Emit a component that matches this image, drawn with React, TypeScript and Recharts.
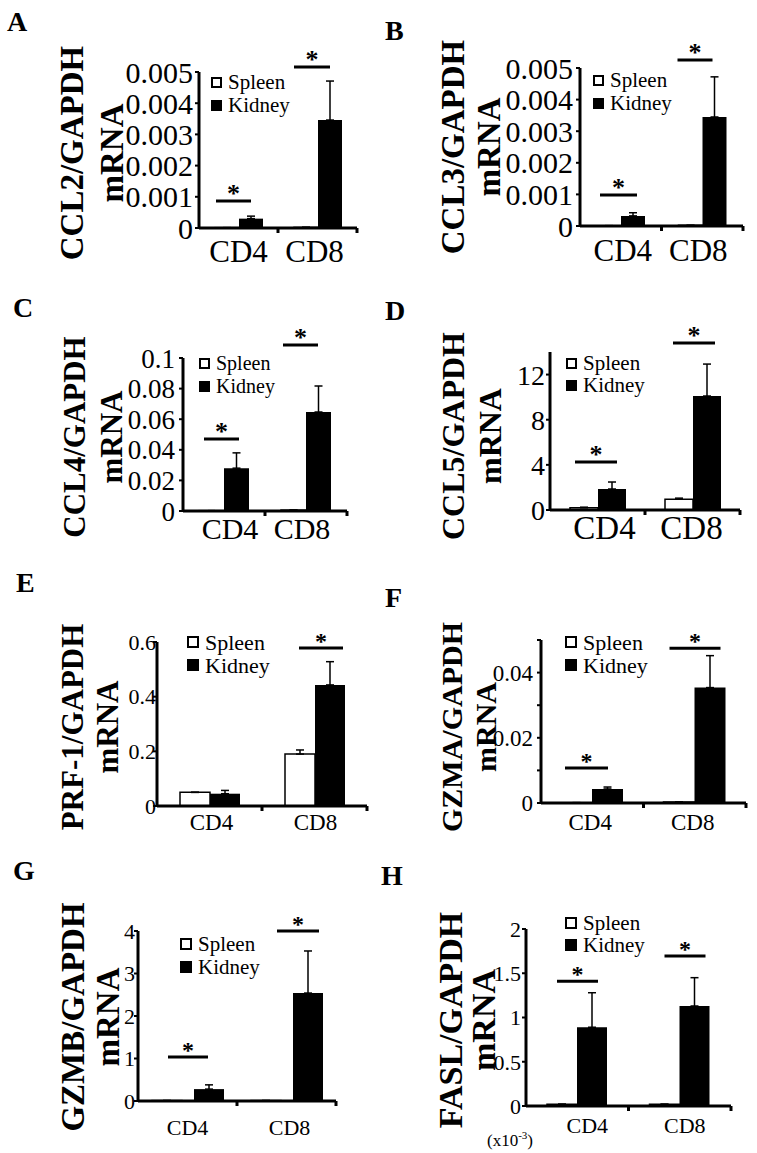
import React from 'react';
import { BarChart, Bar, XAxis, YAxis, ErrorBar, Legend } from 'recharts';

const SERIF = '"Liberation Serif", "DejaVu Serif", "Noto Serif", Tinos, "Times New Roman", Times, serif';

const categories = ['CD4', 'CD8'];
const seriesNames = ['Spleen', 'Kidney'];

// A - CCL2
const ccl2Spleen = [0.00001, 0.00002];
const ccl2SpleenErr = [0, 0];
const ccl2Kidney = [0.0003, 0.00346];
const ccl2KidneyErr = [0.00008, 0.00125];
const ccl2Sig = [0.000865, 0.00516];
const ccl2Ticks = [0, 0.001, 0.002, 0.003, 0.004, 0.005];

// B - CCL3
const ccl3Spleen = [0.00001, 0.00002];
const ccl3SpleenErr = [0, 0];
const ccl3Kidney = [0.00032, 0.00345];
const ccl3KidneyErr = [0.0001, 0.00127];
const ccl3Sig = [0.00098, 0.00525];
const ccl3Ticks = [0, 0.001, 0.002, 0.003, 0.004, 0.005];

// C - CCL4
const ccl4Spleen = [0.0002, 0.0006];
const ccl4SpleenErr = [0, 0];
const ccl4Kidney = [0.028, 0.0647];
const ccl4KidneyErr = [0.01, 0.017];
const ccl4Sig = [0.047, 0.1085];
const ccl4Ticks = [0, 0.02, 0.04, 0.06, 0.08, 0.1];

// D - CCL5
const ccl5Spleen = [0.2, 0.95];
const ccl5SpleenErr = [0.05, 0.1];
const ccl5Kidney = [1.86, 10.1];
const ccl5KidneyErr = [0.62, 2.83];
const ccl5Sig = [4.25, 14.8];
const ccl5Ticks = [0, 4, 8, 12];

// E - PRF-1
const prf1Spleen = [0.05, 0.19];
const prf1SpleenErr = [0, 0.015];
const prf1Kidney = [0.045, 0.443];
const prf1KidneyErr = [0.012, 0.085];
const prf1Sig = [null, 0.578];
const prf1Ticks = [0, 0.2, 0.4, 0.6];

// F - GZMA
const gzmaSpleen = [0.0001, 0.0003];
const gzmaSpleenErr = [0, 0];
const gzmaKidney = [0.0043, 0.0354];
const gzmaKidneyErr = [0.0006, 0.0098];
const gzmaSig = [0.0107, 0.0475];
const gzmaTicks = [0, 0.01, 0.02, 0.03, 0.04, 0.05];
const gzmaTickLabels = [0, 0.02, 0.04];

// G - GZMB
const gzmbSpleen = [0.01, 0.01];
const gzmbSpleenErr = [0, 0];
const gzmbKidney = [0.28, 2.54];
const gzmbKidneyErr = [0.1, 0.99];
const gzmbSig = [1.035, 4.0];
const gzmbTicks = [0, 1, 2, 3, 4];

// H - FASL (x10^-3)
const faslSpleen = [0.02, 0.02];
const faslSpleenErr = [0, 0];
const faslKidney = [0.89, 1.13];
const faslKidneyErr = [0.39, 0.32];
const faslSig = [1.41, 1.695];
const faslTicks = [0, 0.5, 1, 1.5, 2];

type PanelCfg = {
  letter: string;
  letterPos: [number, number];
  cell: [number, number, number, number];
  plot: [number, number, number, number];
  domainMax: number;
  ticks: number[];
  tickLabels?: number[];
  spleen: number[];
  spleenErr: number[];
  kidney: number[];
  kidneyErr: number[];
  sig: (number | null)[];
  gene: string;
  labelX: number;
  mrnaX: number;
  labelY: number;
  labelFs: number;
  tickFs: number;
  tickMargin: number;
  catFs: number;
  catDy: number;
  catDx: number[];
  barSize: number;
  barGap: number;
  legend: [number, number, number];
  legendFs: number;
  sqSize: number;
  sigDx: number[][];
  starFs: number;
};

const panels: PanelCfg[] = [
  {
    letter: 'A', letterPos: [7, 31], cell: [0, 0, 378, 290], plot: [199, 357, 72, 228],
    domainMax: 0.005, ticks: ccl2Ticks, spleen: ccl2Spleen, spleenErr: ccl2SpleenErr,
    kidney: ccl2Kidney, kidneyErr: ccl2KidneyErr, sig: ccl2Sig,
    gene: 'CCL2', labelX: 72, mrnaX: 112, labelY: 153, labelFs: 33,
    tickFs: 30, tickMargin: 2, catFs: 31, catDy: 23, catDx: [0, -3], barSize: 24, barGap: 0,
    legend: [211, 82, 23], legendFs: 21, sqSize: 11, sigDx: [[-23, 12], [-24, 12]], starFs: 26,
  },
  {
    letter: 'B', letterPos: [385, 40], cell: [378, 0, 379, 290], plot: [580, 743, 68, 226],
    domainMax: 0.005, ticks: ccl3Ticks, spleen: ccl3Spleen, spleenErr: ccl3SpleenErr,
    kidney: ccl3Kidney, kidneyErr: ccl3KidneyErr, sig: ccl3Sig,
    gene: 'CCL3', labelX: 453, mrnaX: 489, labelY: 147, labelFs: 33,
    tickFs: 30, tickMargin: 3, catFs: 31, catDy: 24, catDx: [2, -4], barSize: 24, barGap: 0,
    legend: [593, 80, 23], legendFs: 21, sqSize: 11, sigDx: [[-21, 16], [-25, 10]], starFs: 26,
  },
  {
    letter: 'C', letterPos: [13, 317], cell: [0, 290, 378, 290], plot: [183, 347, 358, 511],
    domainMax: 0.1, ticks: ccl4Ticks, spleen: ccl4Spleen, spleenErr: ccl4SpleenErr,
    kidney: ccl4Kidney, kidneyErr: ccl4KidneyErr, sig: ccl4Sig,
    gene: 'CCL4', labelX: 74, mrnaX: 111, labelY: 437, labelFs: 31,
    tickFs: 27, tickMargin: 4, catFs: 30, catDy: 17, catDx: [6, -4], barSize: 25, barGap: 0,
    legend: [199, 363, 23], legendFs: 20, sqSize: 11, sigDx: [[-20, 15], [-23, 12]], starFs: 26,
  },
  {
    letter: 'D', letterPos: [385, 320], cell: [378, 290, 379, 290], plot: [550, 740, 352, 510],
    domainMax: 14, ticks: ccl5Ticks, spleen: ccl5Spleen, spleenErr: ccl5SpleenErr,
    kidney: ccl5Kidney, kidneyErr: ccl5KidneyErr, sig: ccl5Sig,
    gene: 'CCL5', labelX: 453, mrnaX: 490, labelY: 436, labelFs: 32,
    tickFs: 28, tickMargin: 1, catFs: 33, catDy: 18, catDx: [7, -1], barSize: 28, barGap: 0,
    legend: [566, 363, 22], legendFs: 21, sqSize: 11, sigDx: [[-23, 19], [-20, 22]], starFs: 26,
  },
  {
    letter: 'E', letterPos: [16, 592], cell: [0, 580, 378, 290], plot: [157, 367, 642, 806],
    domainMax: 0.6, ticks: prf1Ticks, spleen: prf1Spleen, spleenErr: prf1SpleenErr,
    kidney: prf1Kidney, kidneyErr: prf1KidneyErr, sig: prf1Sig,
    gene: 'PRF-1', labelX: 72, mrnaX: 107, labelY: 727, labelFs: 31,
    tickFs: 22, tickMargin: -3, catFs: 23, catDy: 16, catDx: [2, 1], barSize: 30, barGap: 0,
    legend: [187, 642, 23], legendFs: 22, sqSize: 12, sigDx: [[-16, 28], [-16, 28]], starFs: 24,
  },
  {
    letter: 'F', letterPos: [385, 607], cell: [378, 580, 379, 290], plot: [541, 746, 640, 803],
    domainMax: 0.05, ticks: gzmaTicks, tickLabels: gzmaTickLabels, spleen: gzmaSpleen, spleenErr: gzmaSpleenErr,
    kidney: gzmaKidney, kidneyErr: gzmaKidneyErr, sig: gzmaSig,
    gene: 'GZMA', labelX: 451, mrnaX: 485, labelY: 727, labelFs: 30,
    tickFs: 23, tickMargin: 4, catFs: 23, catDy: 19, catDx: [-2, -2], barSize: 31, barGap: 0,
    legend: [565, 642, 23], legendFs: 22, sqSize: 12, sigDx: [[-27, 16], [-25, 26]], starFs: 24,
  },
  {
    letter: 'G', letterPos: [13, 880], cell: [0, 870, 378, 283], plot: [138, 336, 931, 1101],
    domainMax: 4, ticks: gzmbTicks, spleen: gzmbSpleen, spleenErr: gzmbSpleenErr,
    kidney: gzmbKidney, kidneyErr: gzmbKidneyErr, sig: gzmbSig,
    gene: 'GZMB', labelX: 73, mrnaX: 108, labelY: 1017, labelFs: 33,
    tickFs: 22, tickMargin: -1, catFs: 22, catDy: 26, catDx: [0, 3], barSize: 30, barGap: 12,
    legend: [180, 944, 23], legendFs: 21, sqSize: 12, sigDx: [[-26, 14], [-16, 26]], starFs: 24,
  },
  {
    letter: 'H', letterPos: [381, 885], cell: [378, 870, 379, 283], plot: [526, 731, 929, 1106],
    domainMax: 2, ticks: faslTicks, spleen: faslSpleen, spleenErr: faslSpleenErr,
    kidney: faslKidney, kidneyErr: faslKidneyErr, sig: faslSig,
    gene: 'FASL', labelX: 450, mrnaX: 483, labelY: 1020, labelFs: 34,
    tickFs: 22, tickMargin: 1, catFs: 22, catDy: 19, catDx: [10, 5], barSize: 30, barGap: 0,
    legend: [565, 923, 22], legendFs: 21, sqSize: 12, sigDx: [[-20, 21], [-15, 26]], starFs: 24,
  },
];

function YLabel({ c }: { c: PanelCfg }) {
  const [left, top] = c.cell;
  const lx = c.labelX - left;
  const mx = c.mrnaX - left;
  const ly = c.labelY - top;
  return (
    <g>
      <text x={lx} y={ly} transform={`rotate(-90 ${lx} ${ly})`} textAnchor="middle" fontFamily={SERIF}
        dominantBaseline="central" fontWeight="bold" fontSize={c.labelFs} fill="#000">
        {c.gene}/GAPDH
      </text>
      <text x={mx} y={ly} transform={`rotate(-90 ${mx} ${ly})`} textAnchor="middle" fontFamily={SERIF}
        dominantBaseline="central" fontWeight="bold" fontSize={c.labelFs} fill="#000">
        mRNA
      </text>
    </g>
  );
}

function LegendBox({ c }: { c: PanelCfg }) {
  const rowH = c.legend[2];
  return (
    <div style={{ fontSize: c.legendFs, lineHeight: `${rowH}px`, color: '#000', fontFamily: SERIF }}>
      {seriesNames.map((n, i) => (
        <div key={n} style={{ display: 'flex', alignItems: 'center', height: rowH, whiteSpace: 'nowrap' }}>
          <span style={{
            display: 'inline-block', width: c.sqSize, height: c.sqSize, boxSizing: 'border-box',
            border: '2px solid #000', background: i === 0 ? '#fff' : '#000', marginRight: 6,
          }} />
          {n}
        </div>
      ))}
    </div>
  );
}

function Panel({ c }: { c: PanelCfg }) {
  const [left, top, w, h] = c.cell;
  const [x0, x1, yTop, yBot] = c.plot;
  const YW = 80;
  const XH = 40;
  const margin = { top: yTop - top, left: x0 - left - YW, right: left + w - x1, bottom: top + h - yBot - XH };
  const rows = categories.map((cat, i) => ({
    cat,
    spleen: c.spleen[i],
    spleenErr: [0, c.spleenErr[i]],
    kidney: c.kidney[i],
    kidneyErr: [0, c.kidneyErr[i]],
  }));
  const pxPerUnit = (yBot - yTop) / c.domainMax;
  const half = (x1 - x0) / 4;
  const axisY = yBot - top;

  const renderSig = (p: any) => {
    const vb = p.viewBox && p.viewBox.width != null ? p.viewBox : p;
    const i = typeof p.index === 'number' ? p.index : c.kidney.indexOf(p.value);
    const s = c.sig[i];
    if (s == null || vb.x == null) return null;
    const bx = vb.x;
    const ly = axisY - s * pxPerUnit;
    const [a, b] = c.sigDx[i];
    return (
      <g key={`sig-${i}`}>
        <line x1={bx + a} x2={bx + b} y1={ly} y2={ly} stroke="#000" strokeWidth={3} />
        <text x={bx + (a + b) / 2} y={ly + 1} textAnchor="middle" fontWeight="bold" fontFamily={SERIF}
          fontSize={c.starFs} fill="#000">*</text>
      </g>
    );
  };

  const renderCat = (p: any) => {
    const i = p.index ?? categories.indexOf(p.payload.value);
    return (
      <g>
        <text x={p.x + c.catDx[i]} y={axisY + c.catDy} textAnchor="middle" dominantBaseline="central"
          fontFamily={SERIF} fontSize={c.catFs} fill="#000">
          {p.payload.value}
        </text>
        <line x1={p.x + half} x2={p.x + half} y1={axisY} y2={axisY + 5} stroke="#000" strokeWidth={3} />
      </g>
    );
  };

  const fmt = (v: number) => (c.tickLabels && !c.tickLabels.includes(v) ? '' : String(v));

  return (
    <div style={{ position: 'absolute', left, top }}>
      <BarChart width={w} height={h} data={rows} margin={margin} barSize={c.barSize} barGap={c.barGap}
        style={{ fontFamily: SERIF }}>
        <XAxis dataKey="cat" interval={0} height={XH} tickLine={false}
          axisLine={{ stroke: '#000', strokeWidth: 3 }} tick={renderCat} />
        <YAxis type="number" domain={[0, c.domainMax]} allowDataOverflow ticks={c.ticks} interval={0}
          width={YW} tickSize={4} tickMargin={c.tickMargin} tickFormatter={fmt}
          axisLine={{ stroke: '#000', strokeWidth: 3 }} tickLine={{ stroke: '#000', strokeWidth: 2 }}
          tick={{ fill: '#000', fontSize: c.tickFs, fontFamily: SERIF }} label={<YLabel c={c} />} />
        <Legend layout="vertical" align="center" verticalAlign="middle"
          wrapperStyle={{ left: c.legend[0] - left, top: c.legend[1] - c.legend[2] / 2 - top, width: 'auto' }}
          content={() => <LegendBox c={c} />} />
        <Bar dataKey="spleen" name="Spleen" fill="#fff" stroke="#000" strokeWidth={1.5} isAnimationActive={false}>
          <ErrorBar dataKey="spleenErr" width={4} stroke="#000" strokeWidth={1.5} direction="y" />
        </Bar>
        <Bar dataKey="kidney" name="Kidney" fill="#000" isAnimationActive={false} label={renderSig}>
          <ErrorBar dataKey="kidneyErr" width={4} stroke="#000" strokeWidth={1.5} direction="y" />
        </Bar>
      </BarChart>
    </div>
  );
}

export default function App() {
  return (
    <div style={{
      position: 'absolute', left: 0, top: 0, width: 757, height: 1153, background: '#fff',
      fontFamily: SERIF, overflow: 'hidden',
    }}>
      {panels.map((c) => <Panel key={c.letter} c={c} />)}
      <svg width={757} height={1153} style={{ position: 'absolute', left: 0, top: 0, pointerEvents: 'none' }}>
        {panels.map((c) => (
          <text key={c.letter} x={c.letterPos[0]} y={c.letterPos[1]} fontWeight="bold" fontSize={28}
            fontFamily={SERIF} fill="#000">
            {c.letter}
          </text>
        ))}
        <text x={487} y={1146} fontSize={17} fontFamily={SERIF} fill="#000">
          (x10<tspan dy={-7} fontSize={11}>-3</tspan><tspan dy={7}>)</tspan>
        </text>
      </svg>
    </div>
  );
}
